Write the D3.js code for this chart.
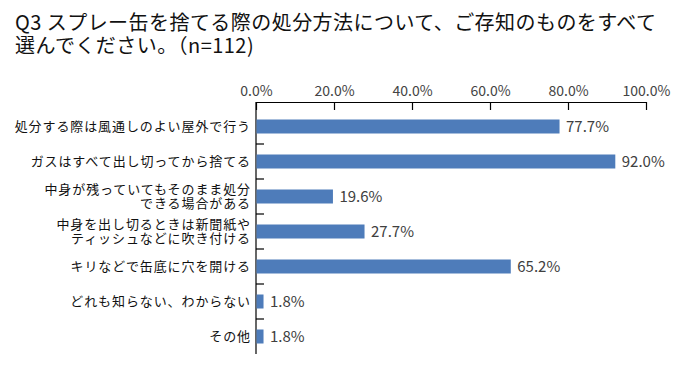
<!DOCTYPE html>
<html><head><meta charset="utf-8">
<script src="https://cdn.jsdelivr.net/npm/d3@7"></script>
<style>
body{margin:0;background:#fff;}
svg{display:block;}
text{font-family:"Noto Sans CJK JP","Noto Sans",sans-serif;}
</style></head>
<body>
<svg id="chart" width="680" height="380"></svg>
<script>
const titleLines = ["Q3 スプレー缶を捨てる際の処分方法について、ご存知のものをすべて", "選んでください。（n=112)"];
const categories = [
  "処分する際は風通しのよい屋外で行う",
  "ガスはすべて出し切ってから捨てる",
  "中身が残っていてもそのまま処分\nできる場合がある",
  "中身を出し切るときは新聞紙や\nティッシュなどに吹き付ける",
  "キリなどで缶底に穴を開ける",
  "どれも知らない、わからない",
  "その他"
];
const values = [77.7, 92.0, 19.6, 27.7, 65.2, 1.8, 1.8];
const tickValues = [0, 20, 40, 60, 80, 100];

const svg = d3.select("#chart");
svg.append("rect").attr("width",680).attr("height",380).attr("fill","#fff");

const title = svg.append("text").attr("font-size",20).attr("fill","#111").attr("letter-spacing","0.45px");
titleLines.forEach((t,i)=>{
  title.append("tspan").attr("x",15).attr("y",30+i*23).text(t);
});

const x = d3.scaleLinear().domain([0,100]).range([256,646]);
const y = d3.scaleBand().domain(categories).range([109,354]).paddingInner(0.6).paddingOuter(0.3);
const axisTopY = 102, axisBottomY = 354;

// top axis
const xAxis = d3.axisTop(x).tickValues(tickValues).tickSizeInner(-8).tickSizeOuter(0).tickPadding(6)
  .tickFormat(d=>d.toFixed(1)+"%");
const gx = svg.append("g").attr("transform",`translate(0,${axisTopY})`).call(xAxis);
gx.select(".domain").attr("stroke","#000").attr("stroke-width",1.2);
gx.selectAll(".tick line").attr("stroke","#000").attr("stroke-width",1.2);
gx.selectAll(".tick text").attr("font-size",14).attr("fill","#444")
  .style("font-family","'Noto Sans CJK JP',sans-serif");

// left axis line
svg.append("line").attr("x1",x(0)).attr("x2",x(0)).attr("y1",axisTopY).attr("y2",axisBottomY)
  .attr("stroke","#000").attr("stroke-width",1.2);
// separators
categories.slice(0,-1).forEach((c,i)=>{
  const yy = y.range()[0] + y.step()*(i+1);
  svg.append("line").attr("x1",x(0)).attr("x2",x(0)+8).attr("y1",yy).attr("y2",yy)
    .attr("stroke","#000").attr("stroke-width",1.2);
});

// bars
svg.append("g").selectAll("rect").data(values).join("rect")
  .attr("x",x(0)+0.5).attr("y",(d,i)=>y(categories[i]))
  .attr("width",d=>x(d)-x(0)).attr("height",y.bandwidth())
  .attr("fill","#4E7CBA");

// value labels
svg.append("g").selectAll("text").data(values).join("text")
  .attr("x",d=>x(d)+7).attr("y",(d,i)=>y(categories[i])+y.bandwidth()/2)
  .attr("dy","0.36em").attr("font-size",15).attr("fill","#404040")
  .text(d=>d.toFixed(1)+"%");

// category labels
const cl = svg.append("g");
categories.forEach(c=>{
  const lines = c.split("\n");
  const cy = y(c)+y.bandwidth()/2;
  const t = cl.append("text").attr("text-anchor","end").attr("font-size",13)
    .attr("letter-spacing","0.9px").attr("fill","#111");
  lines.forEach((ln,j)=>{
    const off = (j-(lines.length-1)/2)*14.5;
    t.append("tspan").attr("x",251).attr("y",cy+off).attr("dy","0.36em").text(ln);
  });
});
</script>
</body></html>
